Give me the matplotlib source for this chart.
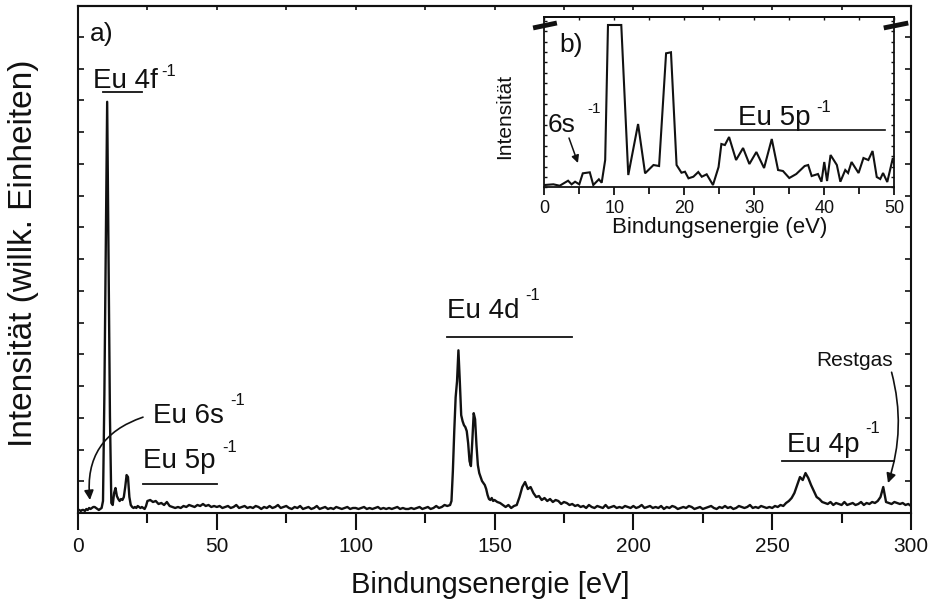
import numpy as np
import matplotlib
matplotlib.use("Agg")
import matplotlib.pyplot as plt
from matplotlib.ticker import MultipleLocator, FixedLocator, NullFormatter

plt.rcParams['font.family'] = ['Liberation Sans', 'DejaVu Sans']

# ---------------- main spectrum (Bindungsenergie in eV, Intensität arb. units) -------------
energy_low = np.arange(0, 25, 0.5)
intensity_low = [1, 1, 0, 1, 1, 0, 2, 1, 3, 2,
                 3, 4, 4, 3, 2, 1, 2, 3, 10, 117,
                 264, 410, 252, 95, 8, 6, 18, 23, 15, 12,
                 10, 12, 11, 14, 24, 36, 34, 14, 6, 4,
                 3, 4, 3, 5, 4, 3, 4, 3, 2, 5]
energy_mid = np.arange(25, 134, 1.0)
intensity_mid = [10, 11, 9, 10, 7, 8, 6, 9, 5, 4,
                 3, 4, 3, 5, 4, 6, 5, 4, 6, 5,
                 7, 5, 6, 4, 5, 4, 5, 3, 4, 5,
                 3, 4, 6, 3, 4, 5, 3, 4, 3, 5,
                 4, 2, 4, 3, 5, 3, 4, 6, 3, 4,
                 5, 3, 2, 4, 3, 5, 2, 3, 4, 2,
                 3, 5, 2, 3, 4, 2, 3, 2, 4, 3,
                 2, 3, 4, 2, 3, 3, 2, 3, 4, 2,
                 3, 2, 3, 4, 2, 3, 2, 3, 2, 3,
                 4, 2, 3, 2, 2, 3, 2, 3, 4, 2,
                 3, 4, 2, 3, 5, 3, 4, 6, 5]
energy_4d = np.arange(134, 150, 0.5)
intensity_4d = [6, 10, 40, 80, 114, 130, 161, 130, 96, 90,
                86, 84, 80, 68, 50, 45, 70, 98, 92, 66,
                46, 38, 34, 30, 28, 26, 22, 16, 12, 11,
                13, 10]
energy_high = np.arange(150, 301, 1.0)
intensity_high = [11, 9, 8, 6, 4, 6, 3, 5, 6, 14,
                  24, 29, 22, 24, 18, 14, 15, 11, 13, 10,
                  12, 9, 11, 10, 7, 9, 8, 6, 7, 5,
                  6, 4, 5, 3, 6, 4, 3, 5, 4, 3,
                  6, 3, 4, 5, 3, 4, 3, 5, 4, 3,
                  5, 3, 4, 6, 3, 4, 5, 3, 4, 3,
                  5, 2, 4, 3, 5, 4, 2, 3, 4, 3,
                  5, 4, 2, 3, 4, 2, 3, 4, 5, 3,
                  2, 4, 3, 5, 3, 4, 2, 3, 5, 4,
                  3, 4, 6, 3, 4, 3, 5, 4, 3, 4,
                  3, 5, 4, 6, 5, 8, 10, 13, 18, 26,
                  34, 31, 38, 33, 26, 20, 14, 12, 9, 8,
                  7, 9, 6, 8, 7, 6, 9, 6, 7, 8,
                  6, 7, 9, 6, 8, 7, 9, 8, 10, 14,
                  24, 9, 8, 7, 9, 8, 7, 8, 6, 7,
                  5]

energy = np.concatenate([energy_low, energy_mid, energy_4d, energy_high])
intensity = np.concatenate([intensity_low, intensity_mid, intensity_4d, intensity_high])

# ---------------- inset spectrum (0-50 eV) ----------------
inset_energy = [0, 1.3, 2.2, 3.4, 3.9, 4.4, 5.0, 5.5, 6.5, 7.0,
                7.8, 8.2, 8.7, 9.1, 11.0, 12.0, 13.4, 14.4, 15.6, 16.4,
                17.4, 18.1, 18.9, 19.6, 20.1, 20.6, 21.3, 22.0, 22.5, 23.2,
                24.1, 24.9, 25.3, 25.8, 26.4, 27.4, 28.4, 29.3, 30.3, 31.4,
                32.5, 33.4, 34.1, 35.0, 36.0, 37.2, 37.7, 38.2, 39.1, 39.6,
                40.0, 40.4, 40.9, 41.8, 42.3, 43.0, 43.4, 43.9, 44.9, 45.6,
                46.3, 46.9, 47.5, 48.0, 48.4, 49.0, 49.8, 50.4]
inset_intensity = [0, 0.7, -0.7, 4.3, 0.7, 3.3, 0.7, 11.7, 12.7, 0,
                   5.7, 2.3, 25, 160, 160, 10, 61, 11.7, 20, 19,
                   131.7, 132.7, 20, 12.3, 13.3, 6.7, 8.3, 13, 8.3, 10.7,
                   0, 18, 41, 40, 48, 25, 37, 21, 33, 17,
                   46, 15, 14, 7, 11, 19, 20, 9, 11, 3.3,
                   23, 4, 30, 20, 3.3, 15, 12, 23, 12, 27,
                   25, 34, 8, 6, 12, 3, 27, 8]

main_xticks = [0, 50, 100, 150, 200, 250, 300]
inset_xticks = [0, 10, 20, 30, 40, 50]

K = '#111111'
fig = plt.figure(figsize=(9.32, 6.07), dpi=100)
ax = fig.add_axes([0.0837, 0.1549, 0.8938, 0.8352])
ax.plot(energy, intensity, color=K, lw=1.7, solid_joinstyle='round')
ax.set_xlim(0, 300)
ax.set_ylim(-2, 506)
for s in ax.spines.values():
    s.set_linewidth(1.5)
    s.set_color(K)

ax.set_xticks(main_xticks)
ax.xaxis.set_minor_locator(MultipleLocator(25))
ax.tick_params(axis='x', which='major', direction='out', length=12, width=1.5,
               labelsize=15, pad=5, colors=K)
ax.tick_params(axis='x', which='minor', direction='out', length=7, width=1.5, colors=K)
ax.yaxis.set_major_locator(FixedLocator(-2 + 31.8 * np.arange(17)))
ax.yaxis.set_major_formatter(NullFormatter())
ax.tick_params(axis='y', which='major', direction='in', length=4, width=1.2,
               left=True, right=True, colors=K)
top = ax.secondary_xaxis('top')
top.set_xticks(np.arange(0, 301, 25))
top.xaxis.set_major_formatter(NullFormatter())
top.tick_params(direction='in', length=3, width=1.2, colors=K)
top.spines['top'].set_linewidth(1.5)

ax.set_xlabel('Bindungsenergie [eV]', fontsize=21, color=K)
ax.xaxis.set_label_coords(0.495, -0.142)
ax.xaxis.label.set_verticalalignment('center')
ax.set_ylabel('Intensität (willk. Einheiten)', fontsize=24, color=K)
ax.yaxis.set_label_coords(-0.066, 0.513)
ax.yaxis.label.set_verticalalignment('center')

LBL = 20
SUP = 12
def label(a, x, y, txt, sx, sy, size=LBL, ssize=SUP):
    a.text(x, y, txt, fontsize=size, color=K, ha='left', va='baseline')
    a.text(sx, sy, '-1', fontsize=ssize, color=K, ha='left', va='baseline')

ax.text(4.3, 471, 'a)', fontsize=19, color=K, ha='left', va='baseline')
label(ax, 5.4, 424, 'Eu 4f', 30.1, 436)
ax.plot([9, 23], [420, 420], color=K, lw=1.3)
label(ax, 27.0, 88, 'Eu 6s', 54.7, 106)
ax.annotate('', xy=(4.3, 11), xytext=(23.4, 94),
            arrowprops=dict(arrowstyle='-|>', color=K, lw=1.2, mutation_scale=14,
                            shrinkA=0, shrinkB=0, connectionstyle='arc3,rad=0.4'))
label(ax, 23.4, 43, 'Eu 5p', 51.9, 59)
ax.plot([23.4, 50], [27, 27], color=K, lw=1.3)
label(ax, 132.9, 193, 'Eu 4d', 161.0, 211)
ax.plot([133, 178], [174, 174], color=K, lw=1.3)
label(ax, 255.3, 59, 'Eu 4p', 283.4, 78)
ax.plot([253.5, 294], [50, 50], color=K, lw=1.3)
ax.text(265.8, 145, 'Restgas', fontsize=15, color=K, ha='left', va='baseline')
ax.annotate('', xy=(291.7, 28), xytext=(293.0, 139),
            arrowprops=dict(arrowstyle='-|>', color=K, lw=1.2, mutation_scale=14,
                            shrinkA=0, shrinkB=0, connectionstyle='arc3,rad=-0.15'))

# ---------------- inset ----------------
ins = fig.add_axes([0.584, 0.6914, 0.3755, 0.2811])
ins.plot(inset_energy, inset_intensity, color=K, lw=1.5, solid_joinstyle='miter')
ins.set_xlim(0, 50)
ins.set_ylim(-2.3, 168.3)
for s in ins.spines.values():
    s.set_linewidth(1.3)
    s.set_color(K)
ins.set_xticks(inset_xticks)
ins.xaxis.set_minor_locator(MultipleLocator(5))
ins.tick_params(axis='x', which='major', direction='out', length=6, width=1.3,
                labelsize=13, pad=3, colors=K)
ins.tick_params(axis='x', which='minor', direction='out', length=5, width=1.3, colors=K)
ins.yaxis.set_major_locator(FixedLocator(-2.3 + 10.4 * np.arange(17)))
ins.yaxis.set_major_formatter(NullFormatter())
ins.tick_params(axis='y', direction='in', length=2.5, width=1.0, left=True, right=True, colors=K)
itop = ins.secondary_xaxis('top')
itop.set_xticks(np.arange(0, 51, 5))
itop.xaxis.set_major_formatter(NullFormatter())
itop.tick_params(direction='in', length=2.5, width=1.0, colors=K)
itop.spines['top'].set_linewidth(1.3)
ins.set_xlabel('Bindungsenergie (eV)', fontsize=16, color=K)
ins.xaxis.set_label_coords(0.502, -0.233)
ins.xaxis.label.set_verticalalignment('center')
ins.set_ylabel('Intensität', fontsize=15, color=K)
ins.yaxis.set_label_coords(-0.112, 0.418)
ins.yaxis.label.set_verticalalignment('center')

ins.text(2.2, 133, 'b)', fontsize=19, color=K, ha='left', va='baseline')
label(ins, 0.5, 53, '6s', 6.1, 72, size=19, ssize=11)
ins.annotate('', xy=(4.81, 22), xytext=(3.53, 47),
             arrowprops=dict(arrowstyle='-|>', color=K, lw=1.1, mutation_scale=11,
                             shrinkA=0, shrinkB=0))
label(ins, 27.7, 60, 'Eu 5p', 38.9, 73, size=20, ssize=12)
ins.plot([24.4, 48.7], [55, 55], color=K, lw=1.2)

# axis-break marks
for (x0, y0, x1, y1) in [(-0.032, 0.934, 0.036, 0.963), (0.97, 0.934, 1.04, 0.963)]:
    ins.plot([x0, x1], [y0, y1], transform=ins.transAxes, color=K, lw=3.5,
             clip_on=False, solid_capstyle='butt')

fig.savefig('out.png', dpi=100)
